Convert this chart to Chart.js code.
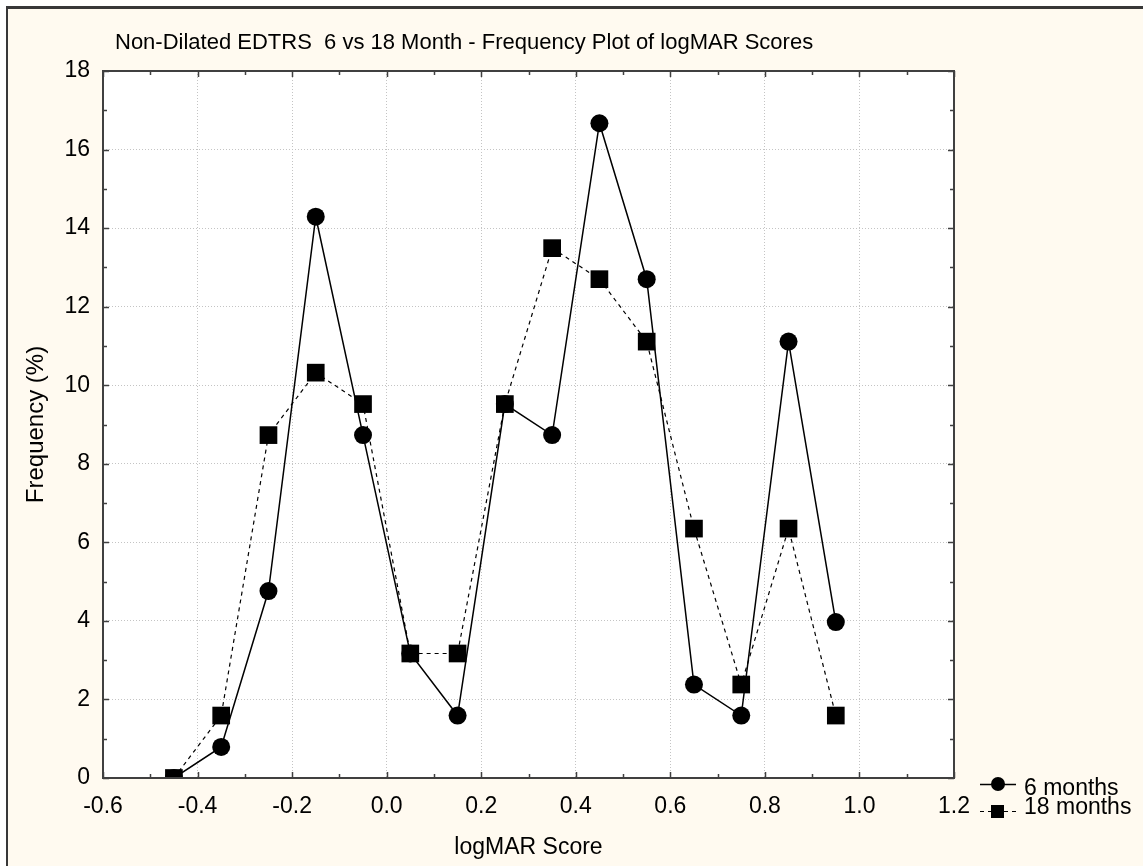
<!DOCTYPE html>
<html>
<head>
<meta charset="utf-8">
<script src="https://cdn.jsdelivr.net/npm/chart.js@4.4.1/dist/chart.umd.min.js"></script>
<style>
  html, body { margin: 0; padding: 0; background: #ffffff; }
  #wrap { width: 1143px; height: 866px; }
</style>
</head>
<body>
<div id="wrap"><canvas id="myChart" width="1143" height="866"></canvas></div>
<script>
// logMAR bin centres and frequency (%) for each visit
const logmarScores = [-0.45, -0.35, -0.25, -0.15, -0.05, 0.05, 0.15, 0.25, 0.35, 0.45, 0.55, 0.65, 0.75, 0.85, 0.95];
const sixMonths = [0, 0.79, 4.76, 14.29, 8.73, 3.17, 1.59, 9.52, 8.73, 16.67, 12.70, 2.38, 1.59, 11.11, 3.97];
const eighteenMonths = [0, 1.59, 8.73, 10.32, 9.52, 3.17, 3.17, 9.52, 13.49, 12.70, 11.11, 6.35, 2.38, 6.35, 1.59];

const seriesNames = ['6 months', '18 months'];
const chartTitle = 'Non-Dilated EDTRS  6 vs 18 Month - Frequency Plot of logMAR Scores';
const xTitle = 'logMAR Score';
const yTitle = 'Frequency (%)';

const FONT = '"Liberation Sans", Arial, sans-serif';
const CREAM = '#fffaf0';
const AXIS = '#404040';

function toPoints(xs, ys) {
    return xs.map((x, i) => ({ x: x, y: ys[i] }));
}

// background, outer frame, white plot area
const backdrop = {
    id: 'backdrop',
    beforeDraw(chart) {
        const ctx = chart.ctx;
        const { left, top, right, bottom } = chart.chartArea;
        ctx.save();
        ctx.fillStyle = '#ffffff';
        ctx.fillRect(0, 0, chart.width, chart.height);
        ctx.fillStyle = CREAM;
        ctx.fillRect(7, 7, chart.width, chart.height);
        ctx.fillStyle = '#383838';
        ctx.fillRect(6, 6, chart.width, 3);
        ctx.fillRect(6, 6, 2, chart.height);
        ctx.fillStyle = '#ffffff';
        ctx.fillRect(left, top, right - left, bottom - top);
        ctx.restore();
    }
};

// plot box, inward ticks, titles and legend
const decorations = {
    id: 'decorations',
    afterDraw(chart) {
        const ctx = chart.ctx;
        const { left, top, right, bottom } = chart.chartArea;
        const xs = chart.scales.x;
        const ys = chart.scales.y;
        ctx.save();

        ctx.strokeStyle = AXIS;
        ctx.lineWidth = 2;
        ctx.strokeRect(left, top, right - left, bottom - top);

        ctx.lineWidth = 1.5;
        ctx.beginPath();
        for (let i = 0; i <= 18; i++) {
            const v = xs.min + i * 0.1;
            const px = Math.round(xs.getPixelForValue(v)) + 0.5;
            const len = i % 2 === 0 ? 6 : 4;
            ctx.moveTo(px, bottom); ctx.lineTo(px, bottom - len);
            ctx.moveTo(px, top); ctx.lineTo(px, top + len);
        }
        for (let i = 0; i <= 18; i++) {
            const py = Math.round(ys.getPixelForValue(i)) + 0.5;
            const len = i % 2 === 0 ? 6 : 4;
            ctx.moveTo(left, py); ctx.lineTo(left + len, py);
            ctx.moveTo(right, py); ctx.lineTo(right - len, py);
        }
        ctx.stroke();

        ctx.fillStyle = '#000000';
        ctx.textBaseline = 'alphabetic';
        ctx.font = '22px ' + FONT;
        ctx.textAlign = 'left';
        ctx.fillText(chartTitle, 115, 49);

        ctx.font = '23px ' + FONT;
        ctx.textAlign = 'center';
        ctx.fillText(xTitle, (left + right) / 2, 854);

        ctx.save();
        ctx.translate(43, (top + bottom) / 2);
        ctx.rotate(-Math.PI / 2);
        ctx.font = '24px ' + FONT;
        ctx.fillText(yTitle, 0, 0);
        ctx.restore();

        // legend
        const rows = [784, 811];
        const textBase = [795, 814];
        chart.data.datasets.forEach((ds) => {
            const k = seriesNames.indexOf(ds.label);
            const y = rows[k];
            ctx.strokeStyle = '#000000';
            ctx.lineWidth = ds.borderWidth;
            ctx.setLineDash(ds.borderDash || []);
            ctx.beginPath();
            ctx.moveTo(980, y + 0.5);
            ctx.lineTo(1016, y + 0.5);
            ctx.stroke();
            ctx.setLineDash([]);
            ctx.fillStyle = '#000000';
            if (ds.pointStyle === 'rect') {
                ctx.fillRect(991, y - 6, 13, 13);
            } else {
                ctx.beginPath();
                ctx.arc(998, y, 7, 0, Math.PI * 2);
                ctx.fill();
            }
            ctx.font = '23px ' + FONT;
            ctx.textAlign = 'left';
            ctx.fillText(ds.label, 1024, textBase[k]);
        });

        ctx.restore();
    }
};

const ctx = document.getElementById('myChart').getContext('2d');

const chart = new Chart(ctx, {
    type: 'line',
    data: {
        datasets: [{
            label: seriesNames[1],
            data: toPoints(logmarScores, eighteenMonths),
            borderColor: '#000000',
            borderWidth: 1.2,
            borderDash: [4, 4],
            pointStyle: 'rect',
            pointRadius: 12.5,
            pointBackgroundColor: '#000000',
            pointBorderWidth: 0,
            tension: 0,
            order: 0
        }, {
            label: seriesNames[0],
            data: toPoints(logmarScores, sixMonths),
            borderColor: '#000000',
            borderWidth: 1.5,
            pointStyle: 'circle',
            pointRadius: 9,
            pointBackgroundColor: '#000000',
            pointBorderWidth: 0,
            tension: 0,
            order: 1
        }]
    },
    options: {
        responsive: false,
        animation: false,
        devicePixelRatio: 1,
        layout: { padding: { top: 71, right: 189, left: 0, bottom: 0 } },
        plugins: {
            legend: { display: false },
            title: { display: false },
            tooltip: { enabled: false }
        },
        scales: {
            x: {
                type: 'linear',
                min: -0.6,
                max: 1.2,
                afterFit: (scale) => { scale.height = 88; },
                ticks: {
                    stepSize: 0.2,
                    padding: 15,
                    color: '#000000',
                    maxRotation: 0,
                    font: { family: FONT, size: 23 },
                    callback: (v) => (Math.abs(v) < 1e-9 ? 0 : v).toFixed(1)
                },
                grid: { color: '#c4c4c4', lineWidth: 1, drawTicks: false },
                border: { display: false, dash: [1, 2] }
            },
            y: {
                min: 0,
                max: 18,
                afterFit: (scale) => { scale.width = 103; },
                ticks: {
                    stepSize: 2,
                    padding: 13,
                    color: '#000000',
                    font: { family: FONT, size: 23 }
                },
                grid: { color: '#c4c4c4', lineWidth: 1, drawTicks: false },
                border: { display: false, dash: [1, 2] }
            }
        }
    },
    plugins: [backdrop, decorations]
});
</script>
</body>
</html>
